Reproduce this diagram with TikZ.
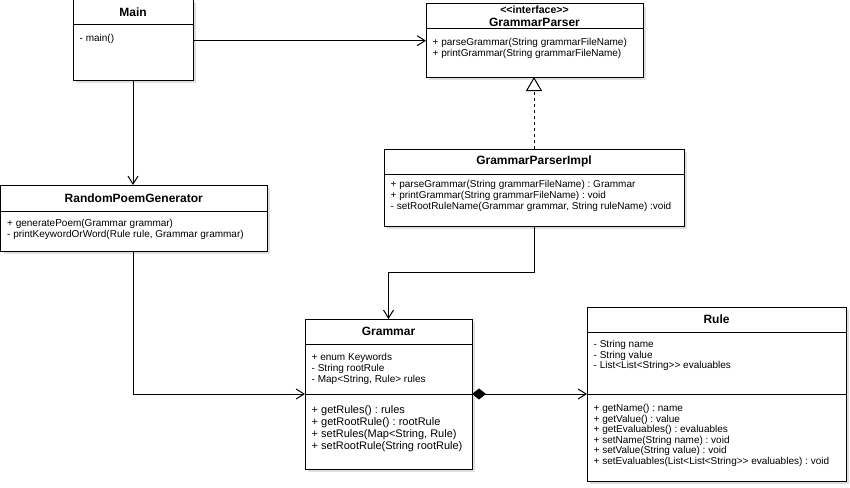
\documentclass[tikz,border=0pt]{standalone}
\usepackage{fontspec}
\setmainfont{Liberation Sans}
\frenchspacing
\usetikzlibrary{arrows.meta,positioning,shadows}
\tikzset{
  >={Straight Barb[length=8pt,width=10pt]},
  uml/.style={draw,fill=white,line width=1pt,inner sep=0pt,outer sep=0pt,
    drop shadow={opacity=0.25,shadow xshift=3pt,shadow yshift=-3pt}},
  cls/.style={uml,anchor=north west,align=center,font=\fontsize{12}{13}\selectfont\bfseries},
  part/.style={uml},
  members/.style={anchor=north west,align=left,inner sep=0pt,font=\fontsize{10}{#1}\selectfont},
  members/.default=11,
  assoc/.style={->,line width=1pt},
  realize/.style={-{Triangle[open,length=14pt,width=16pt]},line width=1pt,dash pattern=on 3pt off 3pt},
  compose/.style={{Diamond[length=14pt,width=11pt]}->,line width=1pt},
}
\begin{document}
\begin{tikzpicture}[x=1pt,y=-1pt]
  \useasboundingbox (0,0) rectangle (850,487);
  % Main
  \node[cls,minimum width=120pt,minimum height=25pt] (main) at (73,0) {Main};
  \node[part,minimum width=120pt,minimum height=55pt,below=0pt of main] (main-attr) {};
  \node[members,below right=8.8pt and 6.5pt of main-attr.north west] (main-a) {\strut- main()};
  % interface
  \node[cls,minimum width=217pt,minimum height=25pt] (gp) at (426,4)
    {{\fontsize{10.5}{12}\selectfont{<}{<}interface{>}{>}}\\GrammarParser};
  \node[part,minimum width=217pt,minimum height=48pt,below=0pt of gp] (gp-attr) {};
  \node[members,below right=8.3pt and 6.5pt of gp-attr.north west] (gp-a)
    {\strut+ parseGrammar(String grammarFileName)\\+ printGrammar(String grammarFileName)};
  % implementation
  \node[cls,minimum width=300pt,minimum height=25pt] (gpi) at (384,149) {GrammarParserImpl};
  \node[part,minimum width=300pt,minimum height=52pt,below=0pt of gpi] (gpi-attr) {};
  \node[members,below right=5.6pt and 6.5pt of gpi-attr.north west] (gpi-a)
    {\strut+ parseGrammar(String grammarFileName) : Grammar\\
     + printGrammar(String grammarFileName) : void\\
     - setRootRuleName(Grammar grammar, String ruleName) :void};
  % generator
  \node[cls,minimum width=266.5pt,minimum height=26pt] (rpg) at (0.5,185) {RandomPoemGenerator};
  \node[part,minimum width=266.5pt,minimum height=40pt,below=0pt of rpg] (rpg-attr) {};
  \node[members,below right=7.9pt and 6.5pt of rpg-attr.north west] (rpg-a)
    {\strut+ generatePoem(Grammar grammar)\\
     - printKeywordOrWord(Rule rule, Grammar grammar)};
  % Grammar
  \node[cls,minimum width=167pt,minimum height=25pt] (gram) at (305,319) {Grammar};
  \node[part,minimum width=167pt,minimum height=50pt,below=0pt of gram] (gram-attr) {};
  \node[part,minimum width=167pt,minimum height=75pt,below=0pt of gram-attr] (gram-ops) {};
  \node[members,below right=8.2pt and 6.5pt of gram-attr.north west] (gram-a)
    {\strut+ enum Keywords\\- String rootRule\\- Map{<}String, Rule{>} rules};
  \node[members,font=\fontsize{11}{12}\selectfont,below right=10.6pt and 6.5pt of gram-ops.north west] (gram-o)
    {\strut+ getRules() : rules\\+ getRootRule() : rootRule\\+ setRules(Map{<}String, Rule)\\+ setRootRule(String rootRule)};
  % Rule
  \node[cls,minimum width=259pt,minimum height=25pt] (rule) at (587,307) {Rule};
  \node[part,minimum width=259pt,minimum height=62pt,below=0pt of rule] (rule-attr) {};
  \node[part,minimum width=259pt,minimum height=87pt,below=0pt of rule-attr] (rule-ops) {};
  \node[members=10.6,below right=7.9pt and 6.5pt of rule-attr.north west] (rule-a)
    {\strut- String name\\- String value\\- List{<}List{<}String{>}{>} evaluables};
  \node[members=10.6,below right=9.9pt and 6.5pt of rule-ops.north west] (rule-o)
    {\strut+ getName() : name\\+ getValue() : value\\+ getEvaluables() : evaluables\\
     + setName(String name) : void\\+ setValue(String value) : void\\
     + setEvaluables(List{<}List{<}String{>}{>} evaluables) : void};
  % connectors
  \coordinate (main-out) at ([yshift=-15.7pt]main-attr.north east);
  \draw[assoc] (main-out) -- (main-out -| gp-attr.west);
  \draw[assoc] (main-attr.south) -- (main-attr.south |- rpg.north);
  \draw[realize] (gpi.north) -- (gpi.north |- gp-attr.south);
  \draw[assoc] (gpi-attr.south) -- ++(0,46) -| (gram.north);
  \draw[assoc] (rpg-attr.south) |- (gram-ops.north west);
  \draw[compose] (gram-ops.north east) -- (rule-ops.north west);
\end{tikzpicture}
\end{document}
